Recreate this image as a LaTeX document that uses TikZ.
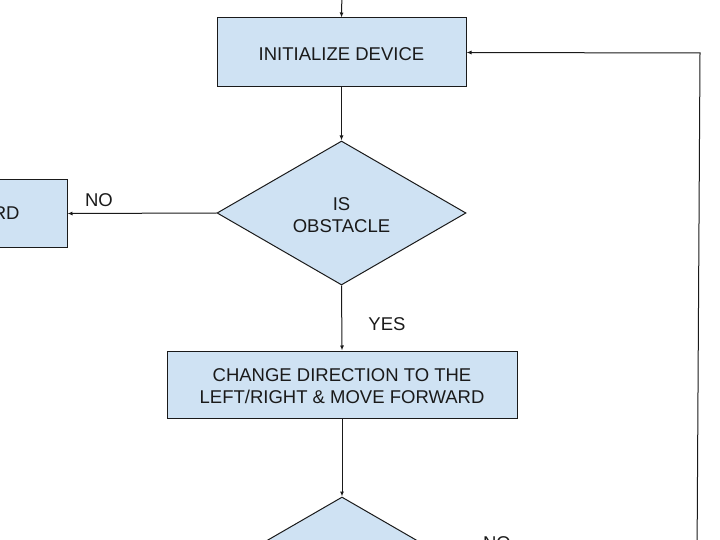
\documentclass[tikz,border=0pt]{standalone}
\usepackage{fontspec}
\setmainfont{Liberation Sans}
\usetikzlibrary{shapes.geometric,arrows.meta}
\definecolor{boxfill}{HTML}{CFE2F3}
\definecolor{ink}{HTML}{1A1A1A}
\newcommand{\lowertext}[1]{\raisebox{-2pt}[\height][\depth]{#1}}
\begin{document}
\begin{tikzpicture}[x=1pt,y=-1pt,
  every node/.style={font=\fontsize{18.5}{22}\selectfont, text=ink},
  procbox/.style={draw=ink, line width=1pt, fill=boxfill, rectangle, inner sep=0pt, align=center},
  decide/.style={draw=ink, line width=1pt, fill=boxfill, diamond, inner sep=0pt, align=center, minimum width=249pt, minimum height=144pt},
  flow/.style={draw=ink, line width=1pt, -{Latex[length=5pt,width=4pt]}},
  lbl/.style={inner sep=0pt}]
\useasboundingbox (0,0) rectangle (720,540);
\clip (0,0) rectangle (720,540);
\coordinate (topin) at (342,-10);
\node[procbox, minimum width=249pt, minimum height=69pt] (init) at (341.5,52.5) {\lowertext{INITIALIZE DEVICE}};
\node[decide] (obst) at (341.5,213) {\lowertext{IS}\\\lowertext{OBSTACLE}};
\node[procbox, minimum width=249pt, minimum height=67pt] (fwd) at (-57.5,213.5) {MOVE FORWARD};
\node[procbox, minimum width=350pt, minimum height=67pt] (turn) at (342,384.5) {\lowertext{CHANGE DIRECTION TO THE}\\\lowertext{LEFT/RIGHT \& MOVE FORWARD}};
\node[decide] (dec2) at (342,569) {};
\coordinate (loopbot) at (697,560);
\coordinate (loopcorner) at (700,53);
\draw[flow] (topin) -- (init.north);
\draw[flow] (init.south) -- (obst.north);
\draw[flow] (obst.west) -- (fwd.east);
\draw[flow] (obst.south) -- (turn.north);
\draw[flow] (turn.south) -- (dec2.north);
\draw[flow] (loopbot) -- (loopcorner) -- (init.east);
\node[lbl] (no1) at (99,200) {NO};
\node[lbl] (yes1) at (387,324) {YES};
\node[lbl] (no2) at (497,543) {NO};
\end{tikzpicture}
\end{document}
